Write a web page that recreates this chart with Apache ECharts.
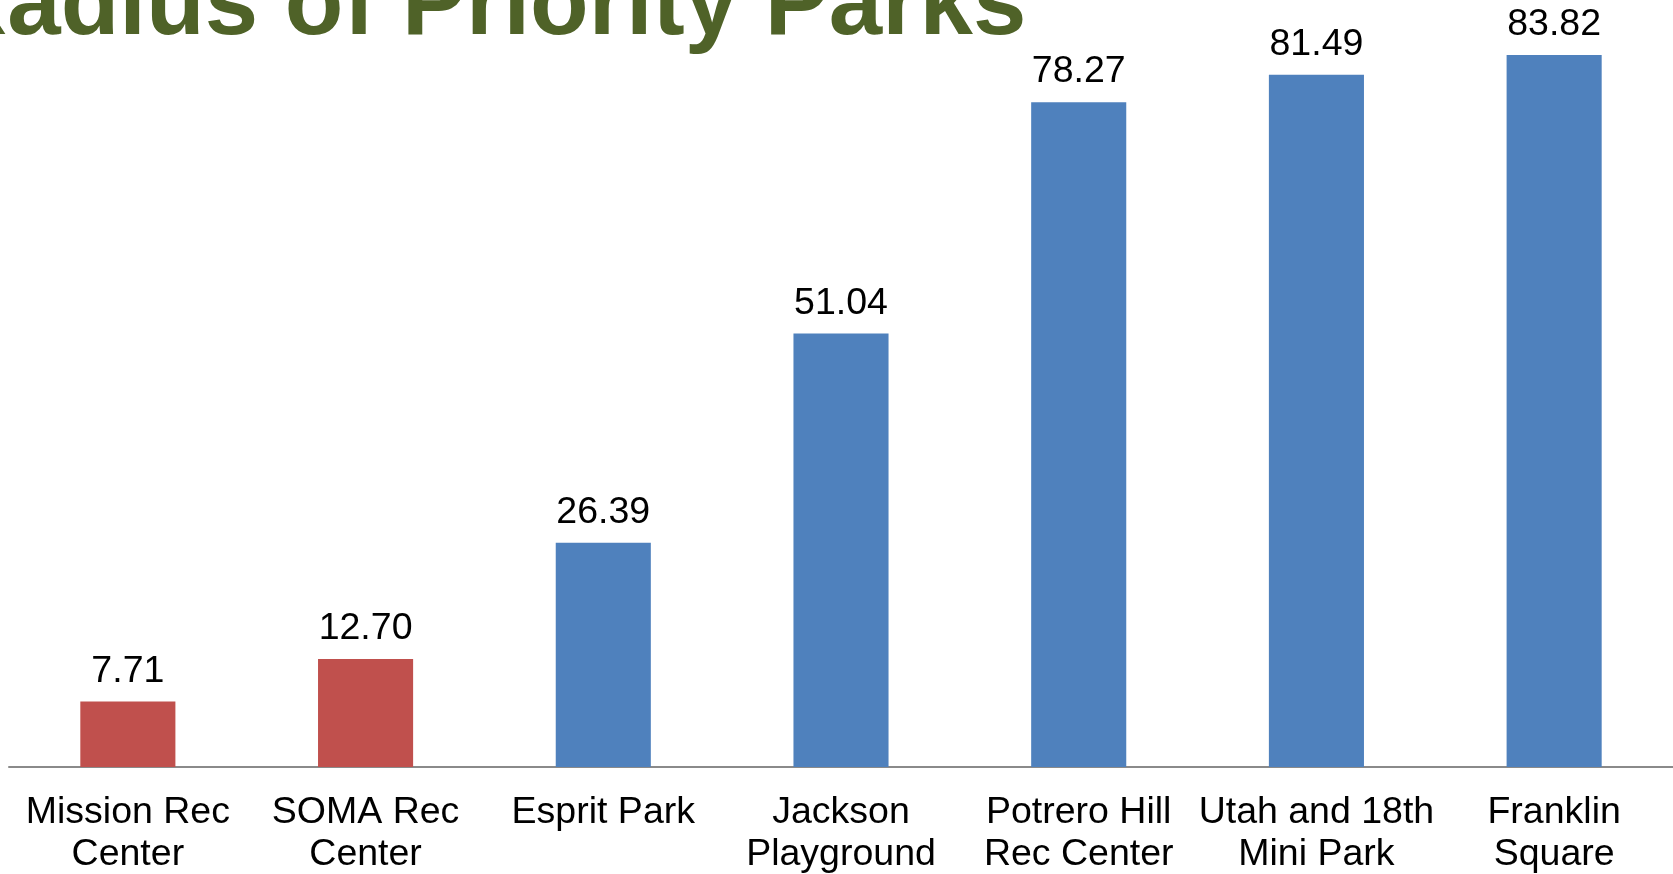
<!DOCTYPE html>
<html>
<head>
<meta charset="utf-8">
<style>
  html, body { margin: 0; padding: 0; background: #ffffff; overflow: hidden; }
  #chart { width: 1673px; height: 874px; }
</style>
<script src="https://cdn.jsdelivr.net/npm/echarts@6/dist/echarts.min.js"></script>
</head>
<body>
<div id="chart"></div>
<script>
const titleText = 'Radius of Priority Parks';
const categories = [
  'Mission Rec\nCenter',
  'SOMA Rec\nCenter',
  'Esprit Park',
  'Jackson\nPlayground',
  'Potrero Hill\nRec Center',
  'Utah and 18th\nMini Park',
  'Franklin\nSquare'
];
const values = [7.71, 12.70, 26.39, 51.04, 78.27, 81.49, 83.82];
const highlighted = [true, true, false, false, false, false, false];

const FONT = '"Liberation Sans", Arial, Helvetica, sans-serif';
const RED = '#C0504D';
const BLUE = '#4F81BD';

const chart = echarts.init(document.getElementById('chart'), null, { renderer: 'canvas' });
chart.setOption({
  backgroundColor: '#ffffff',
  animation: false,
  graphic: [{
    type: 'text',
    x: -62,
    y: 8,
    style: {
      text: titleText,
      font: 'bold 96px ' + FONT,
      fill: '#4F6228',
      verticalAlign: 'middle',
      align: 'left'
    }
  }],
  grid: { left: 9, right: 0, top: 2.5, bottom: 107, containLabel: false, outerBoundsMode: 'none' },
  xAxis: {
    type: 'category',
    data: categories,
    axisLine: { show: true, lineStyle: { color: '#8a8a8a', width: 2 } },
    axisTick: { show: false },
    axisLabel: {
      interval: 0,
      color: '#000000',
      fontFamily: FONT,
      fontSize: 37.5,
      lineHeight: 42,
      margin: 25
    }
  },
  yAxis: {
    type: 'value',
    min: 0,
    max: 90,
    show: false,
    splitLine: { show: false }
  },
  series: [{
    type: 'bar',
    data: values,
    barWidth: '40%',
    itemStyle: {
      color: function (p) { return highlighted[p.dataIndex] ? RED : BLUE; }
    },
    label: {
      show: true,
      position: 'top',
      distance: 11,
      color: '#000000',
      fontFamily: FONT,
      fontSize: 37.5,
      formatter: function (p) { return p.value.toFixed(2); }
    }
  }]
});
</script>
</body>
</html>
